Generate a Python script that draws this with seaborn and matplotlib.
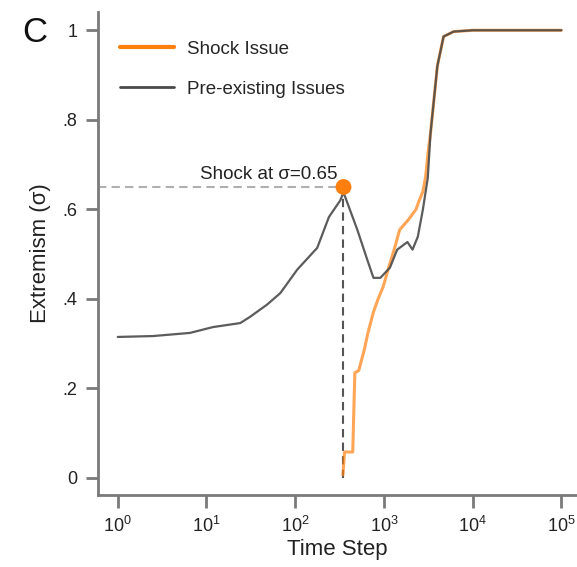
import numpy as np
import pandas as pd
import matplotlib
matplotlib.use("Agg")
import matplotlib.pyplot as plt
import seaborn as sns
from matplotlib.ticker import FixedLocator, FixedFormatter

# ---- data ----
pre_t = [1, 2.5, 6.5, 11.8, 24, 31, 48, 68, 105, 177, 240, 322, 350,
         502, 650, 762, 912, 1170, 1410, 1840, 2100, 2410, 2750, 3120,
         3350, 4000, 4700, 6100, 10000, 30000, 100000]
pre_v = [0.315, 0.317, 0.324, 0.337, 0.346, 0.36, 0.387, 0.413, 0.465, 0.514,
         0.583, 0.62, 0.638, 0.554, 0.487, 0.447, 0.447, 0.47, 0.51, 0.527,
         0.51, 0.539, 0.6, 0.67, 0.77, 0.92, 0.986, 0.997, 1.0, 1.0, 1.0]

shock_t = [345, 360, 445, 470, 520, 600, 660, 760, 860, 980, 1130, 1330,
           1500, 1890, 2300, 2500, 2750, 2950, 3170, 3350, 4000, 4700,
           6100, 10000, 30000, 100000]
shock_v = [0.007, 0.058, 0.058, 0.235, 0.24, 0.286, 0.324, 0.37, 0.40,
           0.427, 0.47, 0.516, 0.554, 0.577, 0.60, 0.62, 0.64, 0.673,
           0.733, 0.77, 0.92, 0.986, 0.997, 1.0, 1.0, 1.0]

shock_time = 350
shock_sigma = 0.65

x_ticks = [1, 10, 100, 1000, 10000, 100000]
x_labels = ["$10^0$", "$10^1$", "$10^2$", "$10^3$", "$10^4$", "$10^5$"]
y_ticks = [0, 0.2, 0.4, 0.6, 0.8, 1.0]
y_labels = ["0", ".2", ".4", ".6", ".8", "1"]

sns.set_style("ticks")
plt.rcParams["font.family"] = ["Liberation Sans", "DejaVu Sans"]
plt.rcParams["mathtext.fontset"] = "custom"
plt.rcParams["mathtext.rm"] = "Liberation Sans"
plt.rcParams["mathtext.it"] = "Liberation Sans:italic"

fig = plt.figure(figsize=(5.77, 5.67), dpi=100)
ax = fig.add_axes([0.170, 0.127, 0.830, 0.852])

orange = "#ff7f0e"
gray = "#4a4a4a"

df_pre = pd.DataFrame({"t": pre_t, "v": pre_v})
df_shock = pd.DataFrame({"t": shock_t, "v": shock_v})

sns.lineplot(data=df_shock, x="t", y="v", ax=ax, color=orange, lw=2.2,
             alpha=0.7, label="Shock Issue", sort=False)
sns.lineplot(data=df_pre, x="t", y="v", ax=ax, color=gray, lw=1.6,
             alpha=0.9, label="Pre-existing Issues", sort=False)

ax.set_xscale("log")
ax.set_xlim(0.6, 1.5e5)
ax.set_ylim(-0.038, 1.041)

# shock annotation
ax.plot([0.6, shock_time], [shock_sigma, shock_sigma], ls=(0, (4, 2.5)),
        color="#b0b0b0", lw=1.5, zorder=1)
ax.plot([shock_time, shock_time], [0, shock_sigma], ls=(0, (4, 2.5)),
        color="#555555", lw=1.5, zorder=1)
sns.scatterplot(x=[shock_time], y=[shock_sigma], ax=ax, color=orange, s=130,
                edgecolor="none", zorder=5, legend=False)
ax.text(300, shock_sigma + 0.008, "Shock at σ=0.65", ha="right", va="bottom",
        fontsize=13.5, color="#222222")

ax.xaxis.set_major_locator(FixedLocator(x_ticks))
ax.xaxis.set_major_formatter(FixedFormatter(x_labels))
ax.xaxis.set_minor_locator(FixedLocator([]))
ax.yaxis.set_major_locator(FixedLocator(y_ticks))
ax.yaxis.set_major_formatter(FixedFormatter(y_labels))

sns.despine(ax=ax)
for side in ["left", "bottom"]:
    ax.spines[side].set_color("#7a7a7a")
    ax.spines[side].set_linewidth(2)
ax.tick_params(axis="both", colors="#7a7a7a", width=2, length=9,
               labelsize=13, labelcolor="#222222", pad=6)

ax.set_xlabel("Time Step", fontsize=16, color="#222222", labelpad=2)
ax.set_ylabel("Extremism (σ)", fontsize=16, color="#222222", labelpad=8)

leg = ax.legend(loc="upper left", bbox_to_anchor=(0.046, 0.94), frameon=False,
                fontsize=13.5, handlelength=2.9, labelspacing=1.2,
                handletextpad=0.65, borderpad=0, borderaxespad=0)
for line in leg.get_lines():
    line.set_alpha(1.0)
leg.get_lines()[0].set_linewidth(3)
leg.get_lines()[1].set_linewidth(2)

fig.text(0.038, 0.943, "C", fontsize=25, color="#111111", va="center")

fig.savefig("out.png", dpi=100)
